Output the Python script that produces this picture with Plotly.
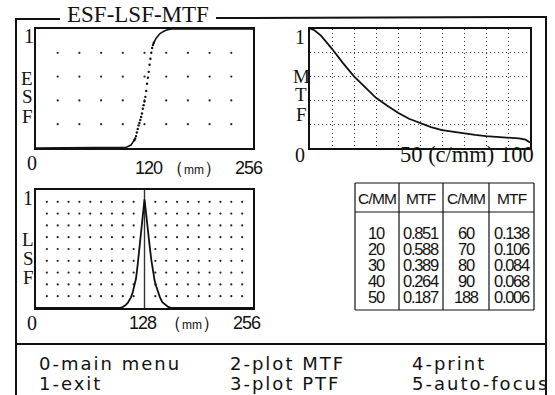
import plotly.graph_objects as go

W, H = 555, 395

# ---------------- data ----------------
# ESF (edge spread function), x in mm 0..256
esf_x = [0, 100, 104, 106, 108, 110, 112, 114, 116, 117, 118, 119, 120, 121, 122, 123,
         124, 125, 126, 127, 128, 129, 130, 131, 132, 133, 134, 135, 136, 137, 138,
         139, 140, 142, 144, 146, 148, 150, 152, 155, 160, 256]
esf_y = [0, 0, 0.003, 0.006, 0.01, 0.015, 0.025, 0.045, 0.065, 0.08, 0.10, 0.13, 0.16,
         0.19, 0.21, 0.235, 0.26, 0.29, 0.33, 0.36, 0.39, 0.43, 0.48, 0.54, 0.59, 0.64,
         0.70, 0.75, 0.80, 0.84, 0.865, 0.885, 0.90, 0.925, 0.945, 0.96, 0.97, 0.98,
         0.985, 0.993, 1.0, 1.0]

# LSF (line spread function)
lsf_x = [0, 98, 102, 105, 108, 110, 112, 114, 116, 118, 120, 122, 124, 125, 126, 127,
         128, 129, 130, 132, 134, 136, 138, 140, 142, 144, 146, 149, 152, 156, 160, 256]
lsf_y = [0, 0, 0.008, 0.02, 0.04, 0.06, 0.09, 0.13, 0.185, 0.25, 0.37, 0.51, 0.65, 0.74,
         0.82, 0.87, 0.92, 0.86, 0.78, 0.66, 0.53, 0.41, 0.31, 0.23, 0.18, 0.135, 0.094,
         0.05, 0.03, 0.009, 0, 0]
lsf_cursor = 128

# MTF curve, c/mm 0..100
mtf_x = [0, 2, 5, 10, 15, 20, 25, 30, 35, 40, 45, 50, 55, 60, 65, 70, 75, 80, 85, 90, 95, 98, 100]
mtf_y = [1.0, 0.985, 0.94, 0.83, 0.71, 0.60, 0.51, 0.42, 0.355, 0.295, 0.245, 0.21, 0.175,
         0.15, 0.135, 0.12, 0.11, 0.10, 0.095, 0.09, 0.08, 0.07, 0.045]

# table
tab_cmm_1 = [10, 20, 30, 40, 50]
tab_mtf_1 = ["0.851", "0.588", "0.389", "0.264", "0.187"]
tab_cmm_2 = [60, 70, 80, 90, 188]
tab_mtf_2 = ["0.138", "0.106", "0.084", "0.068", "0.006"]
tab_header = ["C/MM", "MTF", "C/MM", "MTF"]

# dot grids
esf_grid_x = [25.6, 51.2, 76.8, 102.4, 128, 153.6, 179.2, 204.8, 230.4]
esf_grid_y = [0.2, 0.4, 0.6, 0.8]
lsf_grid_x = [12.8 * i for i in range(1, 20) if i != 10]
lsf_grid_y = [0.1 * i for i in range(1, 10)]

menu = [["0-main menu", "1-exit"], ["2-plot MTF", "3-plot PTF"], ["4-print", "5-auto-focus"]]

# ---------------- layout helpers ----------------
def fx(px):
    return px / W

def fy(py):
    return 1 - py / H

SERIF = "Liberation Serif, Times New Roman, serif"
NARROW = "Liberation Sans, Arial, sans-serif"
SANS = "DejaVu Sans, sans-serif"

annotations = []
def ann(text, px, py, size, family, xanchor="center", color="#111"):
    annotations.append(dict(text=text, x=fx(px), y=fy(py), xref="paper", yref="paper",
                            showarrow=False, xanchor=xanchor, yanchor="middle",
                            font=dict(family=family, size=size, color=color)))

shapes = []
def line(x0, y0, x1, y1, w=2, color="#111"):
    shapes.append(dict(type="line", xref="paper", yref="paper",
                       x0=fx(x0), y0=fy(y0), x1=fx(x1), y1=fy(y1),
                       line=dict(color=color, width=w)))

def narrow(t, ls=-1.0):
    return "<span style='letter-spacing:%spx'>%s</span>" % (ls, t)

fig = go.Figure()

# ESF
dots = dict(mode="markers", marker=dict(size=2.2, color="#222"), hoverinfo="skip", showlegend=False)
gx = [x for x in esf_grid_x for _ in esf_grid_y]
gy = [y for _ in esf_grid_x for y in esf_grid_y]
fig.add_trace(go.Scatter(x=gx, y=gy, xaxis="x", yaxis="y", **dots))
lo = [i for i, v in enumerate(esf_y) if v <= 0.08]
hi = [i for i, v in enumerate(esf_y) if v >= 0.865]
mid = [i for i, v in enumerate(esf_y) if 0.065 <= v <= 0.885]
fig.add_trace(go.Scatter(x=[esf_x[i] for i in lo] + [None] + [esf_x[i] for i in hi],
                         y=[esf_y[i] for i in lo] + [None] + [esf_y[i] for i in hi],
                         mode="lines", line=dict(color="#111", width=1.6),
                         xaxis="x", yaxis="y", showlegend=False))
fig.add_trace(go.Scatter(x=[esf_x[i] for i in mid], y=[esf_y[i] for i in mid],
                         mode="markers", marker=dict(size=2.4, color="#111"),
                         xaxis="x", yaxis="y", showlegend=False))

# MTF
fig.add_trace(go.Scatter(x=mtf_x, y=mtf_y, mode="lines", line=dict(color="#111", width=1.8),
                         xaxis="x2", yaxis="y2", showlegend=False))

# LSF
gx = [x for x in lsf_grid_x for _ in lsf_grid_y]
gy = [y for _ in lsf_grid_x for y in lsf_grid_y]
fig.add_trace(go.Scatter(x=gx, y=gy, xaxis="x3", yaxis="y3", **dots))
fig.add_trace(go.Scatter(x=[lsf_cursor, lsf_cursor], y=[0, 1], mode="lines",
                         line=dict(color="#333", width=1.4), xaxis="x3", yaxis="y3", showlegend=False))
fig.add_trace(go.Scatter(x=lsf_x, y=lsf_y, mode="lines", line=dict(color="#111", width=1.8),
                         xaxis="x3", yaxis="y3", showlegend=False))

box = dict(showline=True, mirror=True, linecolor="#111", linewidth=2, ticks="",
           showticklabels=False, zeroline=False, fixedrange=True)
fig.update_layout(
    width=W, height=H, margin=dict(l=0, r=0, t=0, b=0),
    paper_bgcolor="white", plot_bgcolor="white", showlegend=False,
    xaxis=dict(domain=[fx(36), fx(253)], range=[0, 256], anchor="y", showgrid=False, **box),
    yaxis=dict(domain=[fy(148), fy(29)], range=[0, 1], anchor="x", showgrid=False, **box),
    xaxis2=dict(domain=[fx(310), fx(530)], range=[0, 100], anchor="y2", showgrid=True,
                dtick=10, tick0=0, gridcolor="#333", griddash="1px,3px", gridwidth=1, **box),
    yaxis2=dict(domain=[fy(148), fy(28.5)], range=[0, 1], anchor="x2", showgrid=True,
                dtick=0.2, tick0=0, gridcolor="#333", griddash="1px,3px", gridwidth=1, **box),
    xaxis3=dict(domain=[fx(36), fx(253)], range=[0, 256], anchor="y3", showgrid=False, **box),
    yaxis3=dict(domain=[fy(308), fy(190)], range=[0, 1], anchor="x3", showgrid=False, **box),
)

# outer frame
line(16, 19, 60, 19)
line(216, 18, 546, 17)
line(16, 18, 16, 395)
line(546, 16, 546, 395)
line(16, 344, 546, 344)
ann("ESF-LSF-MTF", 138, 15, 23, SERIF)

# ESF labels
ann("1", 29, 36, 20, SERIF)
for t, y in zip("ESF", [79, 97, 116]):
    ann(t, 27, y, 19, SERIF)
ann("0", 32, 163, 20, SERIF)
ann(narrow("120"), 149, 168, 18, NARROW)
ann("（<span style='font-size:12px'>mm</span>）", 194, 168, 18, NARROW)
ann(narrow("256"), 249, 168, 18, NARROW)

# MTF labels
ann("1", 300, 37, 20, SERIF)
for t, y in zip("MTF", [76, 95, 114]):
    ann(t, 301, y, 19, SERIF)
ann("0", 300, 155, 20, SERIF)
ann("50 (c/mm) 100", 398, 154, 22.5, SERIF, xanchor="left")

# LSF labels
ann("1", 28, 198, 20, SERIF)
for t, y in zip("LSF", [239, 258, 277]):
    ann(t, 28, y, 19, SERIF)
ann("0", 32, 323, 20, SERIF)
ann(narrow("128"), 143, 323, 18, NARROW)
ann("（<span style='font-size:12px'>mm</span>）", 192, 323, 18, NARROW)
ann(narrow("256"), 247, 323, 18, NARROW)

# table
TX = [355, 399, 443, 489, 534]
T_TOP, T_HEAD, T_BOT = 183, 212, 310
line(TX[0], T_TOP, TX[-1], T_TOP, w=1.2)
line(TX[0], T_HEAD, TX[-1], T_HEAD, w=1.2)
line(TX[0], T_BOT, TX[-1], T_BOT, w=1.2)
for x in TX:
    line(x, T_TOP, x, T_BOT, w=1.2)
cx = [(TX[i] + TX[i + 1]) / 2 for i in range(4)]
for c, t in zip(cx, tab_header):
    ann(narrow(t, -0.8), c, 198, 15.5, NARROW)
cols = [[str(v) for v in tab_cmm_1], tab_mtf_1, [str(v) for v in tab_cmm_2], tab_mtf_2]
for c, vals in zip(cx, cols):
    for i, v in enumerate(vals):
        ann(narrow(v, -1.3), c, 233 + 16 * i, 16.5, NARROW)

# menu
menu_x = [37, 228, 410]
for mx, items in zip(menu_x, menu):
    for i, t in enumerate(items):
        ann("<span style='letter-spacing:2px'>" + t + "</span>", mx, 363 + 20 * i, 18, SANS,
            xanchor="left")

fig.update_layout(shapes=shapes, annotations=annotations)
fig.write_html("out.html", config={"displayModeBar": False},
               post_script="document.body.style.margin='0';")
